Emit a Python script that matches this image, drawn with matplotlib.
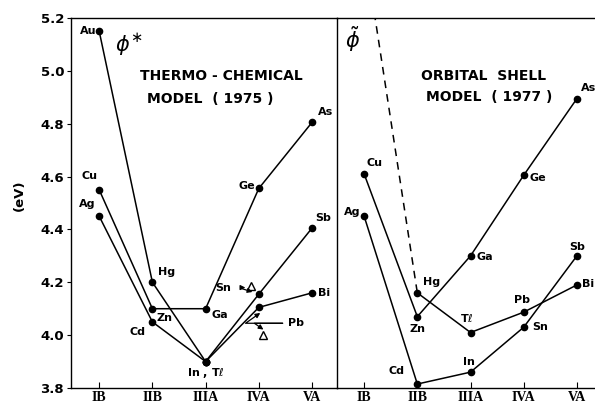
import matplotlib
matplotlib.use("Agg")
import matplotlib.pyplot as plt

groups = ["IB", "IIB", "IIIA", "IVA", "VA"]
xpos = [1, 2, 3, 4, 5]

# Left panel: thermo-chemical model (1975)
left_series = {
    "Au-Hg-InTl": ([1, 2, 3], [5.15, 4.20, 3.90]),
    "Cu-Zn-Ga-Ge-As": ([1, 2, 3, 4, 5], [4.55, 4.10, 4.10, 4.555, 4.805]),
    "Ag-Cd-InTl": ([1, 2, 3], [4.45, 4.05, 3.90]),
    "InTl-Sn-Sb": ([3, 4, 5], [3.90, 4.155, 4.405]),
    "InTl-Pb-Bi": ([3, 4, 5], [3.90, 4.105, 4.16]),
}
left_triangles_x = [3.85, 4.08]
left_triangles_y = [4.185, 4.00]

# Right panel: orbital shell model (1977)
right_series = {
    "Cu-Zn-Ga-Ge-As": ([1, 2, 3, 4, 5], [4.61, 4.07, 4.30, 4.605, 4.895]),
    "Ag-Cd-In-Sn-Sb": ([1, 2, 3, 4, 5], [4.45, 3.815, 3.86, 4.03, 4.30]),
    "Hg-Tl-Pb-Bi": ([2, 3, 4, 5], [4.16, 4.01, 4.087, 4.19]),
}
right_dashed_x = [1, 2]
right_dashed_y = [5.47, 4.16]

fig = plt.figure(figsize=(5.95, 4.04), dpi=100)
axL = fig.add_axes([71/595, 16/404, 266/595, 370/404])
axR = fig.add_axes([337/595, 16/404, 258/595, 370/404])
axR.patch.set_visible(False)

lw = 1.1
ms = 4.5
lab = dict(fontsize=8, fontweight="bold", textcoords="offset points")

for ax in (axL, axR):
    ax.set_ylim(3.8, 5.2)
    ax.set_xticks(xpos)
    ax.set_xticklabels(groups, fontsize=10, fontweight="bold", family="Liberation Serif")
    ax.tick_params(axis="x", direction="in", length=4, pad=2, width=0.8)
    for s in ax.spines.values():
        s.set_linewidth(1.0)

axL.set_xlim(0.47, 5.47)
axR.set_xlim(0.49, 5.34)
axR.spines["right"].set_visible(False)
axR.spines["left"].set_visible(False)

axL.set_yticks([3.8, 4.0, 4.2, 4.4, 4.6, 4.8, 5.0, 5.2])
axL.set_yticklabels(["3.8", "4.0", "4.2", "4.4", "4.6", "4.8", "5.0", "5.2"], fontsize=9.5, fontweight="bold")
axL.tick_params(axis="y", direction="out", length=3, pad=2)
axR.set_yticks([])

for xs, ys in left_series.values():
    axL.plot(xs, ys, "-", color="black", lw=lw, marker="o", ms=ms, mfc="black")
axL.plot(left_triangles_x, left_triangles_y, "^", ms=6, mfc="white", mec="black", mew=1.0, ls="none")

for xs, ys in right_series.values():
    axR.plot(xs, ys, "-", color="black", lw=lw, marker="o", ms=ms, mfc="black")
axR.plot(right_dashed_x, right_dashed_y, "--", color="black", lw=lw, dashes=(5, 4))

# Left labels
L = left_series
axL.annotate("Au", (1, L["Au-Hg-InTl"][1][0]), xytext=(-2, 0), ha="right", va="center", **lab)
axL.annotate("Cu", (1, L["Cu-Zn-Ga-Ge-As"][1][0]), xytext=(-7, 6), ha="center", va="bottom", **lab)
axL.annotate("Ag", (1, L["Ag-Cd-InTl"][1][0]), xytext=(-9, 5), ha="center", va="bottom", **lab)
axL.annotate("Hg", (2, L["Au-Hg-InTl"][1][1]), xytext=(4, 4), ha="left", va="bottom", **lab)
axL.annotate("Zn", (2, L["Cu-Zn-Ga-Ge-As"][1][1]), xytext=(3, -3), ha="left", va="top", **lab)
axL.annotate("Cd", (2, L["Ag-Cd-InTl"][1][1]), xytext=(-5, -4), ha="right", va="top", **lab)
axL.annotate("Ga", (3, L["Cu-Zn-Ga-Ge-As"][1][2]), xytext=(4, -1), ha="left", va="top", **lab)
axL.annotate("In , T$\\ell$", (3, 3.90), xytext=(0, -3.5), ha="center", va="top", **lab)
axL.annotate("Ge", (4, L["Cu-Zn-Ga-Ge-As"][1][3]), xytext=(-3, 2), ha="right", va="center", **lab)
axL.annotate("As", (5, L["Cu-Zn-Ga-Ge-As"][1][4]), xytext=(4, 4), ha="left", va="bottom", **lab)
axL.annotate("Sb", (5, L["InTl-Sn-Sb"][1][2]), xytext=(2, 4), ha="left", va="bottom", **lab)
axL.annotate("Bi", (5, L["InTl-Pb-Bi"][1][2]), xytext=(4, 0), ha="left", va="center", **lab)
axL.annotate("Sn", (3.85, 4.185), xytext=(-14, -1), ha="right", va="center", **lab)
axL.annotate("", xy=(3.80, 4.18), xytext=(3.62, 4.18),
             arrowprops=dict(arrowstyle="-|>", color="black", lw=0.9, mutation_scale=7))
axL.annotate("", xy=(3.93, 4.16), xytext=(3.62, 4.18),
             arrowprops=dict(arrowstyle="-|>", color="black", lw=0.9, mutation_scale=7))
axL.annotate("Pb", (4.55, 4.045), xytext=(0, 0), ha="left", va="center", **lab)
axL.annotate("", xy=(4.07, 4.09), xytext=(4.5, 4.045),
             arrowprops=dict(arrowstyle="-|>", color="black", lw=0.9, mutation_scale=7,
                             connectionstyle="angle,angleA=180,angleB=35,rad=0"))
axL.annotate("", xy=(4.13, 4.015), xytext=(4.5, 4.045),
             arrowprops=dict(arrowstyle="-|>", color="black", lw=0.9, mutation_scale=7,
                             connectionstyle="angle,angleA=180,angleB=-35,rad=0"))

axL.text(1.55, 5.1, r"$\phi^{\ast}$", fontsize=15, ha="center", va="center")
axL.text(3.29, 4.98, "THERMO - CHEMICAL", fontsize=10, fontweight="bold", ha="center", va="center")
axL.text(3.08, 4.895, "MODEL  ( 1975 )", fontsize=10, fontweight="bold", ha="center", va="center")
axL.set_ylabel("(eV)", fontsize=9.5, fontweight="bold")
axL.yaxis.set_label_coords(-0.17, 0.52)

# Right labels
R = right_series
axR.annotate("Cu", (1, R["Cu-Zn-Ga-Ge-As"][1][0]), xytext=(2, 4), ha="left", va="bottom", **lab)
axR.annotate("Ag", (1, R["Ag-Cd-In-Sn-Sb"][1][0]), xytext=(-3, 3), ha="right", va="center", **lab)
axR.annotate("Hg", (2, R["Hg-Tl-Pb-Bi"][1][0]), xytext=(4, 4), ha="left", va="bottom", **lab)
axR.annotate("Zn", (2, R["Cu-Zn-Ga-Ge-As"][1][1]), xytext=(0, -5), ha="center", va="top", **lab)
axR.annotate("Cd", (2, R["Ag-Cd-In-Sn-Sb"][1][1]), xytext=(-9, 6), ha="right", va="bottom", **lab)
axR.annotate("Ga", (3, R["Cu-Zn-Ga-Ge-As"][1][2]), xytext=(4, -1), ha="left", va="center", **lab)
axR.annotate("T$\\ell$", (3, R["Hg-Tl-Pb-Bi"][1][1]), xytext=(-3, 6), ha="center", va="bottom", **lab)
axR.annotate("In", (3, R["Ag-Cd-In-Sn-Sb"][1][2]), xytext=(-1, 4), ha="center", va="bottom", **lab)
axR.annotate("Ge", (4, R["Cu-Zn-Ga-Ge-As"][1][3]), xytext=(4, -2), ha="left", va="center", **lab)
axR.annotate("As", (5, R["Cu-Zn-Ga-Ge-As"][1][4]), xytext=(3, 4), ha="left", va="bottom", **lab)
axR.annotate("Sb", (5, R["Ag-Cd-In-Sn-Sb"][1][4]), xytext=(0, 3), ha="center", va="bottom", **lab)
axR.annotate("Bi", (5, R["Hg-Tl-Pb-Bi"][1][3]), xytext=(4, 1), ha="left", va="center", **lab)
axR.annotate("Pb", (4, R["Hg-Tl-Pb-Bi"][1][2]), xytext=(-1, 5), ha="center", va="bottom", **lab)
axR.annotate("Sn", (4, R["Ag-Cd-In-Sn-Sb"][1][3]), xytext=(6, 0), ha="left", va="center", **lab)

axR.text(0.78, 5.12, r"$\tilde{\phi}$", fontsize=15, ha="center", va="center")
axR.text(3.25, 4.98, "ORBITAL  SHELL", fontsize=10, fontweight="bold", ha="center", va="center")
axR.text(3.35, 4.90, "MODEL  ( 1977 )", fontsize=10, fontweight="bold", ha="center", va="center")

fig.savefig("out.png", dpi=100)
